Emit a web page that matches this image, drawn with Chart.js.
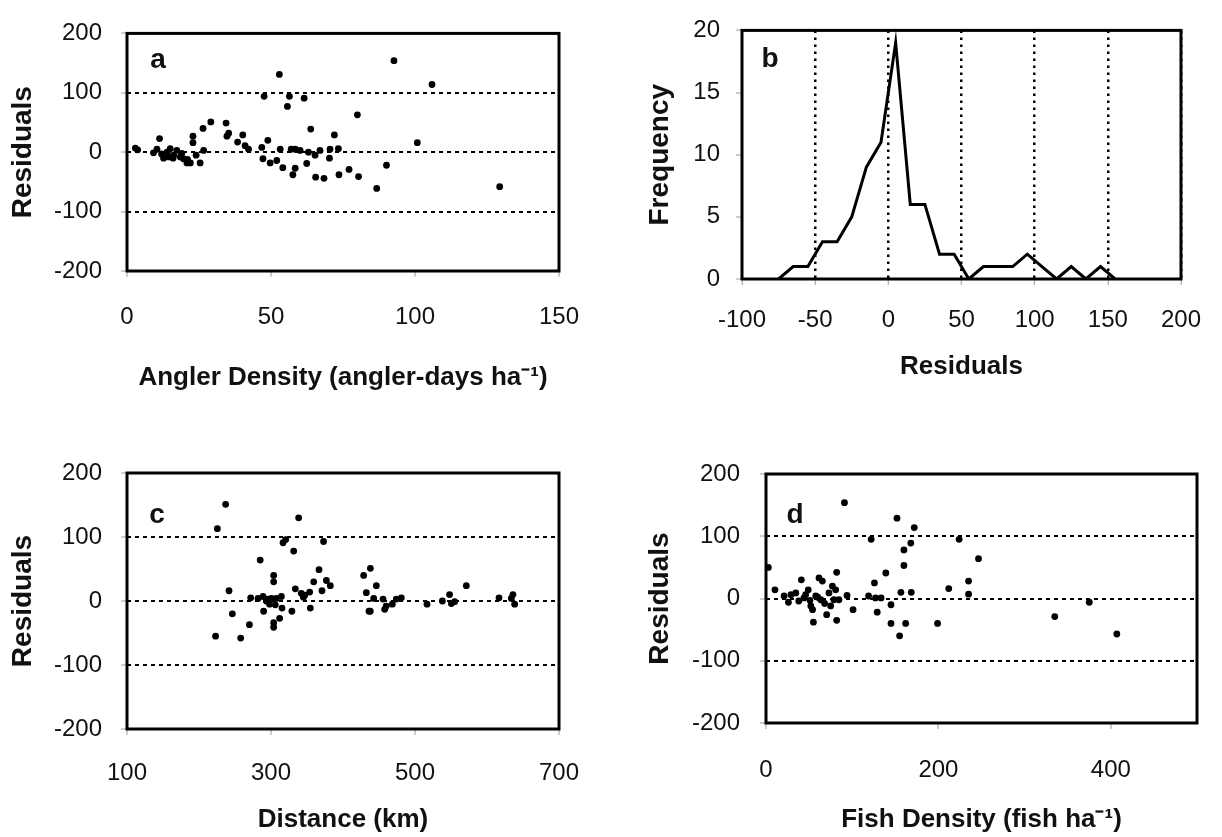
<!DOCTYPE html>
<html><head><meta charset="utf-8">
<script src="https://cdn.jsdelivr.net/npm/chart.js@4/dist/chart.umd.min.js"></script>
<style>
html,body{margin:0;padding:0;background:#fff;}
body{width:1222px;height:837px;position:relative;overflow:hidden;}
.panel{position:absolute;}
</style></head><body>
<div class="panel" style="left:0;top:0;width:611px;height:418px"><canvas id="ca"></canvas></div>
<div class="panel" style="left:611px;top:0;width:611px;height:418px"><canvas id="cb"></canvas></div>
<div class="panel" style="left:0;top:418px;width:611px;height:419px"><canvas id="cc"></canvas></div>
<div class="panel" style="left:611px;top:418px;width:611px;height:419px"><canvas id="cd"></canvas></div>
<script>
// ---------- DATA ----------
const residualTicks = [-200, -100, 0, 100, 200];
const residualGrid = [-100, 0, 100];

// (a) Angler density vs residuals
const anglerX = [2.9,3.7,9.2,10.4,11.3,12.7,13.9,15,16.2,17.3,18.5,19.6,20.8,22,22.9,22.9,25.4,26.6,26.4,29.1,34.4,34.7,35.3,38.4,40.2,41,42.2,46.8,47.2,47.6,48.9,49.7,52,52.9,54.1,53.2,55.7,56.4,57.6,57,58.4,58.4,60.1,61.5,62.4,63,63.8,65.3,65.5,67,68.4,70.3,70.5,72,73.4,73.6,77.1,80,80.4,86.7,90.1,92.7,100.8,105.9,129.4,12,14.5,16,19,21,24];
const anglerY = [7,4,-1,5,23,-10,0,6,-5,3,-8,-11,-18,-18,27,16,-18,3,40,51,49,27,32,17,29,11,5,8,-11,94,20,-18,-14,131,-26,5,77,94,-38,5,-27,5,3,91,-19,0,39,-5,-42,3,-44,-10,5,29,6,-38,-29,63,-41,-61,-22,154,16,114,-58,-3,-8,-10,-2,-12,-5];
const anglerTicks = [0, 50, 100, 150];

// (b) Frequency distribution of residuals
const histX = [-75,-65,-55,-45,-35,-25,-15,-5,5,15,25,35,45,55,65,75,85,95,105,115,125,135,145,155];
const histFreq = [0,1,1,3,3,5,9,11,19,6,6,2,2,0,1,1,1,2,1,0,1,0,1,0];
const histXTicks = [-100,-50,0,50,100,150,200];
const histXGrid = [-50,0,50,100,150,200];
const freqTicks = [0,5,10,15,20];

// (c) Distance vs residuals
const distX = [237,225.5,241.7,246.3,223,257.9,270,285,271.8,282,289,293.5,289.8,303.7,303.7,300.5,307.4,314.4,315.3,303.7,303.7,312,316.7,320.4,329,331.5,333.8,338.4,342,346.8,353.7,354.6,359.3,366.7,370.8,373,376.9,382.4,428.7,438,432.4,446.3,442.6,455.6,436.1,437.9,457.9,468.5,474,481,516.7,538,548,550.5,555,571.3,616.7,636,638.4,633.8,296,298,306,345,460];
const distY = [151,113,16,-20,-55,-58,-37,64,5,4,7,0,-16,40,30,4,4,7,-11,-34,-41,-27,91,96,-16,78,19,130,12,9,14,-11,30,49,16,93,32,24,40,51,13,24,4,3,-16,-16,-13,-5,3,5,-5,0,10,-4,-1,24,5,10,-5,4,3,-5,-6,6,-8];
const distTicks = [100, 300, 500, 700];

// (d) Fish density vs residuals
const fishX = [2.7,10.4,21,26,29,34.6,41,44,46,49,51,52,54,55,57.7,61.5,63.5,65.4,70.4,73,75,77,78.8,80.8,82,82,84.6,91,94,101,119,122,125.8,127,129,133.5,139,145,145,152,155,156.5,160,160,162,168,168.5,172,199,212,224,235,235,246.5,335,375,407,38,60,68];
const fishY = [50,14,4,-6,6,9,30,1,6,14,-3,-12,-18,-38,4,33,-2,28,-26,9,-12,20,-2,14,42,-35,-2,154,5,-18,4,95,25,1,-22,1,41,-10,-40,129,-60,10,53,78,-40,89,10,114,-40,16,95,7,28,64,-29,-6,-57,-4,2,-8];
const fishTicks = [0, 200, 400];

// ---------- STYLE HELPERS ----------
const FONT = '"Liberation Sans", Arial, Helvetica, sans-serif';
const TXT = '#111';
Chart.defaults.font.family = FONT;
Chart.defaults.color = TXT;

const framePlugin = {
  id: 'frame',
  afterDraw(chart, args, o) {
    const {ctx, chartArea: a} = chart;
    ctx.save();
    ctx.lineWidth = 3;
    ctx.strokeStyle = '#000';
    ctx.strokeRect(a.left, a.top, a.right - a.left, a.bottom - a.top);
    if (o.letter) {
      ctx.font = 'bold 28px ' + FONT;
      ctx.fillStyle = TXT;
      ctx.textAlign = 'center';
      ctx.textBaseline = 'alphabetic';
      ctx.fillText(o.letter, a.left + o.dx, a.top + o.dy);
    }
    ctx.restore();
  }
};

function pts(xs, ys) { return xs.map((x, i) => ({x: x, y: ys[i]})); }

function axis(cfg) {
  return {
    type: 'linear',
    min: cfg.min, max: cfg.max,
    afterBuildTicks: s => { s.ticks = cfg.ticks.map(v => ({value: v})); },
    afterFit: s => { if (cfg.horizontal) s.height = cfg.size; else s.width = cfg.size; },
    ticks: {
      font: {size: 24, family: FONT}, color: TXT, padding: cfg.tickPad,
      callback: v => String(v)
    },
    grid: {
      drawOnChartArea: true, drawTicks: true, tickLength: 6,
      tickColor: '#9a9a9a', tickWidth: 1, tickBorderDash: [], tickBorderDashOffset: 0,
      color: c => (cfg.grid.indexOf(c.tick && c.tick.value) >= 0 ? '#000' : 'rgba(0,0,0,0)'),
      lineWidth: cfg.gridWidth || 2,
      borderDash: cfg.dash || [4, 4]
    },
    border: {display: false, dash: cfg.dash || [4, 4]},
    title: {
      display: true, text: cfg.title, color: TXT,
      font: {size: cfg.titleFont, weight: 'bold', family: FONT},
      padding: cfg.titlePad
    }
  };
}

function baseOptions(layoutPad, scales, frame) {
  return {
    responsive: true, maintainAspectRatio: false, animation: false,
    events: [],
    layout: {padding: layoutPad},
    plugins: {legend: {display: false}, tooltip: {enabled: false}, frame: frame},
    scales: scales
  };
}

function scatterDataset(xs, ys) {
  return {data: pts(xs, ys), pointRadius: 3.4, pointBackgroundColor: '#000', pointBorderWidth: 0, showLine: false};
}

// (a)
new Chart(document.getElementById('ca'), {
  type: 'scatter',
  data: {datasets: [scatterDataset(anglerX, anglerY)]},
  options: baseOptions({left: 0, top: 22, right: 52, bottom: 0}, {
    x: axis({horizontal: true, min: 0, max: 150, ticks: anglerTicks, grid: [], title: 'Angler Density (angler-days ha\u207B\u00B9)', titleFont: 26, titlePad: {top: 0, bottom: 25}, tickPad: 26, size: 147}),
    y: axis({horizontal: false, min: -200, max: 200, ticks: residualTicks, grid: residualGrid, title: 'Residuals', titleFont: 28, titlePad: {top: 6, bottom: 0}, tickPad: 19, size: 127})
  }, {letter: 'a', dx: 31, dy: 35}),
  plugins: [framePlugin]
});

// (b)
new Chart(document.getElementById('cb'), {
  type: 'scatter',
  data: {datasets: [{data: pts(histX, histFreq), showLine: true, borderColor: '#000', borderWidth: 3, pointRadius: 0, tension: 0, fill: false}]},
  options: baseOptions({left: 0, top: 21, right: 29, bottom: 0}, {
    x: axis({horizontal: true, min: -100, max: 200, ticks: histXTicks, grid: histXGrid, dash: [2.5, 4.5], gridWidth: 2.5, title: 'Residuals', titleFont: 26, titlePad: {top: 0, bottom: 36}, tickPad: 21, size: 139}),
    y: axis({horizontal: false, min: 0, max: 20, ticks: freqTicks, grid: [], title: 'Frequency', titleFont: 28, titlePad: {top: 32, bottom: 0}, tickPad: 16, size: 131})
  }, {letter: 'b', dx: 28, dy: 37}),
  plugins: [framePlugin]
});

// (c)
new Chart(document.getElementById('cc'), {
  type: 'scatter',
  data: {datasets: [scatterDataset(distX, distY)]},
  options: baseOptions({left: 0, top: 55, right: 52, bottom: 0}, {
    x: axis({horizontal: true, min: 100, max: 700, ticks: distTicks, grid: [], title: 'Distance (km)', titleFont: 26, titlePad: {top: 0, bottom: 2}, tickPad: 24, size: 108}),
    y: axis({horizontal: false, min: -200, max: 200, ticks: residualTicks, grid: residualGrid, title: 'Residuals', titleFont: 28, titlePad: {top: 6, bottom: 0}, tickPad: 19, size: 127})
  }, {letter: 'c', dx: 30, dy: 50}),
  plugins: [framePlugin]
});

// (d)
new Chart(document.getElementById('cd'), {
  type: 'scatter',
  data: {datasets: [scatterDataset(fishX, fishY)]},
  options: baseOptions({left: 0, top: 56, right: 25, bottom: 0}, {
    x: axis({horizontal: true, min: 0, max: 500, ticks: fishTicks, grid: [], title: 'Fish Density (fish ha\u207B\u00B9)', titleFont: 26, titlePad: {top: 0, bottom: 2}, tickPad: 27, size: 114}),
    y: axis({horizontal: false, min: -200, max: 200, ticks: residualTicks, grid: residualGrid, title: 'Residuals', titleFont: 28, titlePad: {top: 32, bottom: 0}, tickPad: 20, size: 155})
  }, {letter: 'd', dx: 29, dy: 49}),
  plugins: [framePlugin]
});
</script>
</body></html>
